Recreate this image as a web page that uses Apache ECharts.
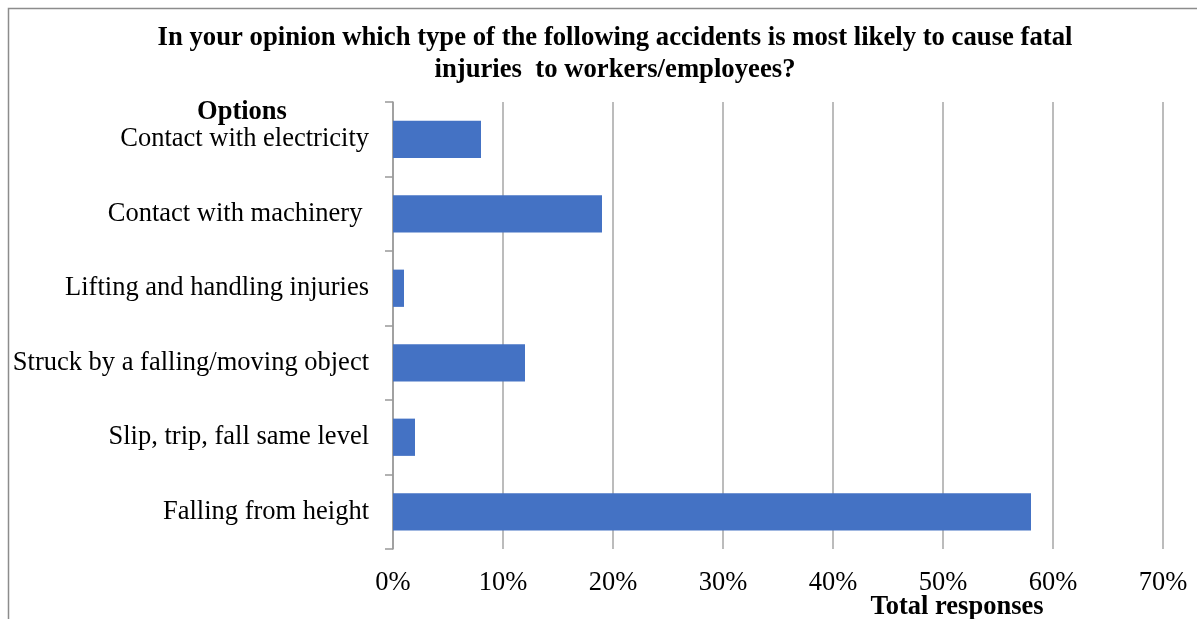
<!DOCTYPE html>
<html>
<head>
<meta charset="utf-8">
<script src="https://cdn.jsdelivr.net/npm/echarts@6/dist/echarts.min.js"></script>
<style>
  html, body { margin: 0; padding: 0; background: #fff; }
  #chart { width: 1197px; height: 619px; }
</style>
</head>
<body>
<div id="chart"></div>
<script>
// categories top to bottom
var options = [
  "Contact with electricity",
  "Contact with machinery ",
  "Lifting and handling injuries",
  "Struck by a falling/moving object",
  "Slip, trip, fall same level",
  "Falling from height"
];
// share of total responses (%)
var responses = [8, 19, 1, 12, 2, 58];
var xTicks = [0, 10, 20, 30, 40, 50, 60, 70];

var serif = "'Liberation Serif', 'Times New Roman', serif";
var chart = echarts.init(document.getElementById("chart"));

chart.setOption({
  animation: false,
  title: {
    text: "In your opinion which type of the following accidents is most likely to cause fatal\ninjuries  to workers/employees?",
    left: 610,
    top: 17,
    textAlign: "center",
    textStyle: {
      fontFamily: serif,
      fontSize: 26.7,
      fontWeight: "bold",
      color: "#000",
      lineHeight: 32
    }
  },
  grid: {
    left: 393,
    right: 34,
    top: 102,
    bottom: 70
  },
  xAxis: {
    type: "value",
    min: xTicks[0],
    max: xTicks[xTicks.length - 1],
    interval: 10,
    axisLine: { show: false },
    axisTick: { show: false },
    splitLine: { show: true, lineStyle: { color: "#a6a6a6", width: 1.5 } },
    axisLabel: {
      margin: 21,
      fontFamily: serif,
      fontSize: 26.5,
      color: "#000",
      formatter: function (v) { return v + "%"; }
    }
  },
  yAxis: {
    type: "category",
    inverse: true,
    data: options,
    axisLine: { show: true, lineStyle: { color: "#999", width: 1.5 } },
    axisTick: { show: true, length: 8, lineStyle: { color: "#999", width: 1.5 } },
    axisLabel: {
      margin: 24,
      fontFamily: serif,
      fontSize: 26.5,
      color: "#000"
    }
  },
  series: [{
    type: "bar",
    data: responses,
    barCategoryGap: "50%",
    itemStyle: { color: "#4472c4" }
  }],
  graphic: [
    {
      type: "rect",
      shape: { x: 8.5, y: 8.5, width: 1300, height: 700 },
      style: { fill: "none", stroke: "#8c8c8c", lineWidth: 1.5 },
      z: -1
    },
    {
      type: "text",
      style: {
        text: "Options",
        x: 242, y: 112,
        textAlign: "center",
        textVerticalAlign: "middle",
        font: "bold 26.5px " + serif,
        fill: "#000"
      }
    },
    {
      type: "text",
      style: {
        text: "Total responses",
        x: 957, y: 607,
        textAlign: "center",
        textVerticalAlign: "middle",
        font: "bold 26.5px " + serif,
        fill: "#000"
      }
    }
  ]
});
</script>
</body>
</html>
